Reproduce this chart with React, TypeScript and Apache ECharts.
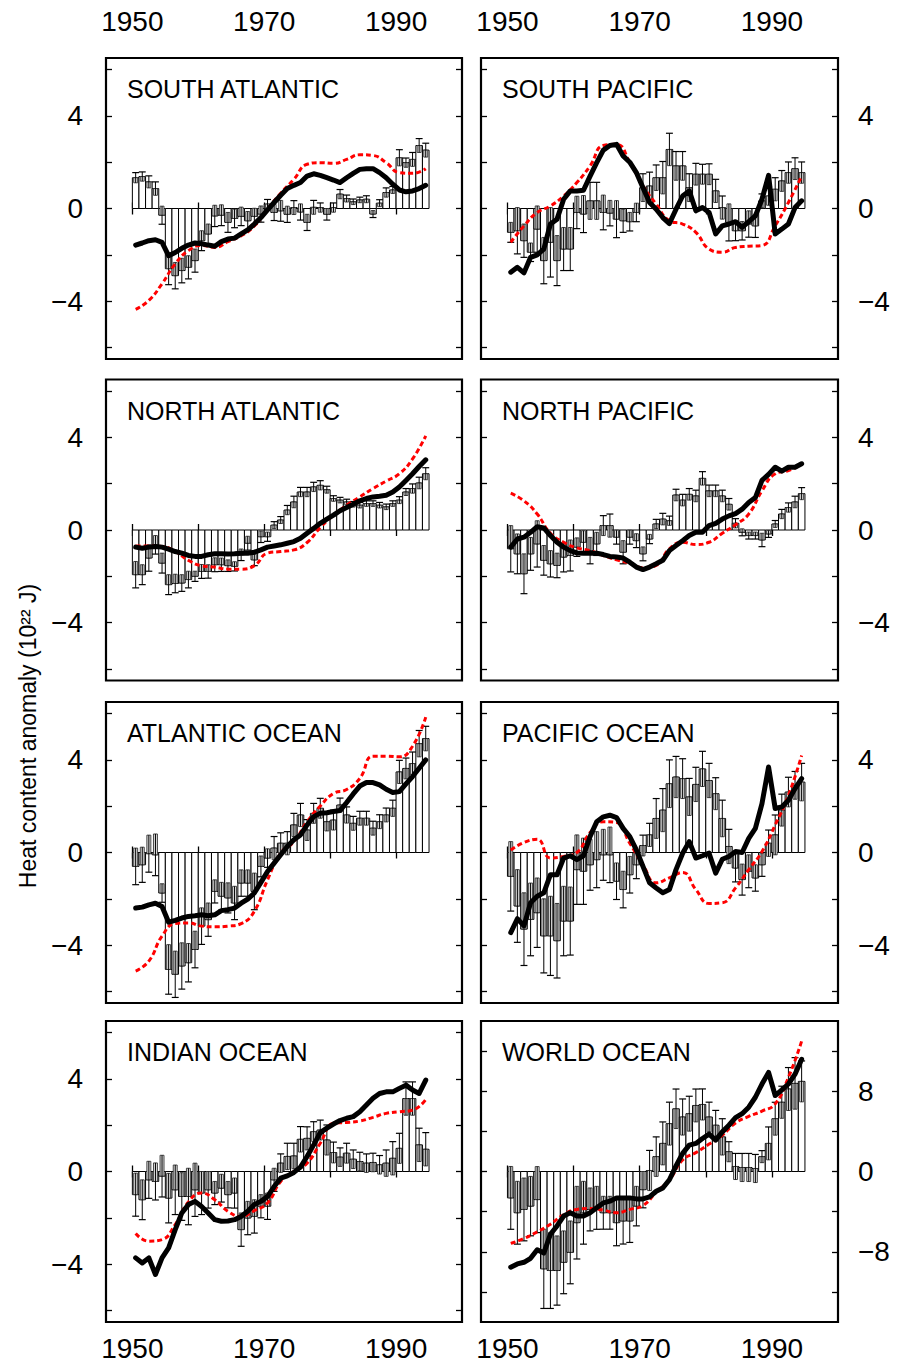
import React, { useEffect, useRef } from "react";
import * as echarts from "echarts";

// ---- data (10^22 J) ----
const YEARS = [1950,1951,1952,1953,1954,1955,1956,1957,1958,1959,1960,1961,1962,1963,1964,1965,1966,1967,1968,1969,1970,1971,1972,1973,1974,1975,1976,1977,1978,1979,1980,1981,1982,1983,1984,1985,1986,1987,1988,1989,1990,1991,1992,1993,1994];
const RED_YEARS = [1950,1952,1954,1956,1958,1960,1962,1964,1966,1968,1970,1972,1974,1976,1978,1980,1982,1984,1986,1988,1990,1992,1994];
const X_TICKS = [1950,1960,1970,1980,1990];
const X_LABELS = [1950,1970,1990];
const Y_TICKS = [-6,-4,-2,0,2,4,6];
const Y_LABELS = [-4,0,4];
const Y_TICKS_WORLD = [-12,-8,-4,0,4,8,12];
const Y_LABELS_WORLD = [-8,0,8];

const SA_BARS = [1.33,1.38,1.15,0.86,-0.29,-2.6,-2.9,-2.68,-2.54,-2.25,-1.39,-1.1,-0.32,-0.29,-0.6,-0.43,-0.34,-0.53,-0.34,-0.24,0.19,-0.17,-0.1,-0.25,0.04,-0.15,-0.6,0.05,0.04,-0.25,0.04,0.62,0.43,0.29,0.37,0.4,-0.24,0.23,0.69,0.8,2.19,1.98,2.12,2.72,2.52];
const SA_ERR = [0.22,0.2,0.26,0.29,0.39,0.69,0.57,0.53,0.5,0.5,0.43,0.43,0.46,0.45,0.43,0.4,0.4,0.4,0.35,0.35,0.2,0.35,0.45,0.35,0.3,0.35,0.35,0.3,0.2,0.25,0.2,0.2,0.15,0.12,0.12,0.15,0.15,0.15,0.2,0.15,0.35,0.2,0.3,0.3,0.3];
const SA_LINE = [-1.58,-1.49,-1.39,-1.35,-1.46,-2.04,-1.9,-1.72,-1.58,-1.49,-1.52,-1.58,-1.63,-1.43,-1.32,-1.28,-1.1,-0.92,-0.67,-0.39,-0.06,0.26,0.57,0.86,1.0,1.12,1.4,1.5,1.43,1.33,1.23,1.12,1.33,1.52,1.69,1.72,1.72,1.55,1.33,1.05,0.8,0.72,0.76,0.86,1.0];
const SA_RED = [-4.36,-3.97,-3.25,-2.39,-1.82,-1.6,-1.68,-1.43,-1.18,-0.75,-0.03,0.66,1.26,1.91,1.98,1.95,2.12,2.32,2.29,1.98,1.55,1.52,1.72];

const SP_BARS = [-1.03,-0.96,-1.39,-1.89,-0.89,-2.25,-1.46,-2.25,-1.75,-1.75,-0.17,-0.24,0.33,0.33,-0.17,-0.2,-0.46,-0.53,-0.57,-0.17,0.9,0.97,1.33,1.33,2.55,1.84,1.84,0.9,1.48,1.48,1.48,0.76,0.04,-0.6,-0.96,-0.96,-0.67,-0.75,0.33,0.54,0.83,1.19,1.55,1.72,1.55];
const SP_ERR = [0.43,1.0,0.72,0.4,1.0,1.0,1.5,1.08,0.93,0.93,0.7,0.8,0.8,0.8,0.75,0.55,0.8,0.5,0.4,0.4,0.6,0.6,0.55,0.7,0.7,0.62,0.62,0.6,0.47,0.43,0.45,0.5,0.5,0.8,0.43,0.4,0.57,0.5,0.3,0.4,0.5,0.45,0.46,0.47,0.46];
const SP_LINE = [-2.75,-2.54,-2.78,-2.11,-2.0,-1.75,-0.67,-0.46,0.4,0.76,0.76,0.79,1.4,1.98,2.52,2.72,2.77,2.27,2.0,1.55,0.9,0.26,-0.03,-0.39,-0.65,-0.03,0.54,0.76,-0.1,0.04,-0.17,-1.1,-0.75,-0.67,-0.57,-0.82,-0.57,-0.32,0.4,1.43,-1.1,-0.89,-0.67,0.04,0.33];
const SP_RED = [-1.46,-0.75,-0.17,0.11,0.54,1.12,1.84,2.72,2.77,2.0,0.97,0.19,-0.53,-0.67,-1.03,-1.75,-1.89,-1.68,-1.63,-1.6,-0.75,0.26,1.4];

const NA_BARS = [-1.93,-1.93,-1.21,-0.64,-1.43,-2.36,-2.31,-2.29,-2.14,-2.0,-1.79,-1.79,-1.5,-1.5,-1.54,-1.57,-1.07,-0.57,-1.29,-0.29,-0.29,0.21,0.43,0.86,1.21,1.64,1.64,1.86,1.93,1.74,1.36,1.29,1.21,1.11,1.07,1.14,1.14,1.07,1.0,1.14,1.29,1.64,1.79,2.03,2.43];
const NA_ERR = [0.57,0.43,0.57,0.4,0.43,0.43,0.4,0.36,0.36,0.22,0.3,0.29,0.3,0.29,0.25,0.2,0.25,0.3,0.25,0.25,0.2,0.15,0.15,0.2,0.25,0.2,0.2,0.2,0.2,0.15,0.12,0.12,0.12,0.12,0.12,0.12,0.12,0.12,0.12,0.12,0.15,0.15,0.2,0.25,0.26];
const NA_LINE = [-0.74,-0.79,-0.74,-0.71,-0.74,-0.83,-0.93,-1.0,-1.1,-1.14,-1.14,-1.07,-1.03,-1.03,-1.04,-1.03,-1.0,-1.0,-0.96,-0.86,-0.74,-0.69,-0.64,-0.57,-0.5,-0.36,-0.14,0.07,0.29,0.47,0.64,0.83,0.97,1.11,1.26,1.36,1.43,1.46,1.5,1.64,1.86,2.14,2.43,2.74,3.03];
const NA_RED = [-0.69,-0.69,-0.71,-0.93,-1.31,-1.54,-1.6,-1.69,-1.69,-1.54,-1.0,-0.93,-0.86,-0.54,0.11,0.64,1.07,1.43,1.79,2.11,2.43,3.07,4.07];

const NP_BARS = [-0.81,-1.03,-1.89,-1.03,-0.6,-1.31,-1.46,-1.53,-1.17,-1.1,-0.74,-0.53,-0.89,-0.6,0.19,0.19,-0.31,-0.96,-0.31,-0.46,-1.03,-0.39,0.26,0.47,0.4,1.51,1.29,1.54,1.47,2.23,1.69,1.69,1.47,1.11,0.29,-0.1,-0.24,-0.24,-0.43,-0.17,0.26,0.69,0.97,1.21,1.57];
const NP_ERR = [1.0,0.86,0.86,0.71,1.0,0.64,0.57,0.53,0.64,0.67,0.4,0.5,0.57,0.5,0.43,0.5,0.3,0.5,0.3,0.3,0.3,0.2,0.2,0.25,0.2,0.25,0.25,0.25,0.25,0.29,0.25,0.25,0.25,0.25,0.2,0.15,0.15,0.15,0.29,0.15,0.15,0.2,0.2,0.25,0.26];
const NP_LINE = [-0.74,-0.39,-0.31,-0.1,0.14,0.09,-0.24,-0.53,-0.74,-0.89,-0.99,-1.0,-1.0,-1.0,-1.06,-1.14,-1.17,-1.21,-1.39,-1.6,-1.71,-1.6,-1.46,-1.31,-0.89,-0.67,-0.46,-0.24,-0.1,-0.1,0.19,0.29,0.47,0.61,0.71,0.9,1.19,1.4,2.14,2.4,2.71,2.54,2.71,2.71,2.86];
const NP_RED = [1.59,1.26,0.69,-0.14,-0.53,-0.77,-0.89,-1.1,-1.29,-1.43,-1.63,-1.53,-0.81,-0.53,-0.63,-0.53,-0.14,0.23,0.69,1.69,2.43,2.57,2.83];

const AO_BARS = [-0.6,-0.53,-0.05,-0.1,-1.75,-5.05,-5.26,-4.9,-4.76,-4.19,-3.18,-2.9,-1.68,-1.89,-1.96,-2.18,-1.32,-1.32,-1.68,-0.6,-0.24,0.19,0.4,0.4,1.19,1.62,0.97,1.69,1.91,1.33,1.4,2.05,1.62,1.26,1.48,1.48,1.05,1.33,1.62,1.91,3.48,3.63,3.84,4.7,4.92];
const AO_ERR = [0.79,0.76,0.8,0.9,0.4,1.07,1.0,1.0,0.83,0.79,0.79,0.72,0.5,0.6,0.65,0.72,0.57,0.57,0.79,0.45,0.4,0.5,0.45,0.5,0.5,0.5,0.45,0.43,0.43,0.4,0.43,0.3,0.35,0.3,0.3,0.3,0.3,0.3,0.3,0.35,0.5,0.45,0.5,0.57,0.53];
const AO_LINE = [-2.4,-2.36,-2.26,-2.19,-2.33,-3.01,-2.93,-2.83,-2.76,-2.73,-2.69,-2.73,-2.69,-2.51,-2.47,-2.4,-2.19,-2.01,-1.75,-1.29,-0.82,-0.46,-0.1,0.26,0.55,0.76,1.19,1.55,1.7,1.72,1.77,1.81,2.16,2.53,2.87,3.02,3.02,2.92,2.73,2.59,2.63,2.96,3.28,3.64,4.0];
const AO_RED = [-5.12,-4.69,-3.61,-3.07,-3.04,-3.18,-3.21,-3.18,-3.07,-2.54,-1.18,-0.03,0.47,1.33,2.01,2.55,2.72,3.2,4.16,4.16,4.13,4.59,5.85];

const PO_BARS = [-1.03,-2.31,-3.31,-2.89,-2.6,-3.6,-3.6,-3.81,-2.96,-2.96,-0.74,-0.81,-0.53,-0.31,-0.1,-0.1,-1.24,-1.6,-0.96,-0.53,0.3,0.76,1.47,1.83,2.97,3.26,3.19,2.4,2.94,3.61,3.11,2.54,1.47,0.26,-0.67,-1.17,-0.81,-1.1,-0.53,0.4,0.76,1.83,2.61,2.9,3.04];
const PO_ERR = [1.5,1.57,1.57,1.57,1.5,1.6,1.71,1.61,1.5,1.47,1.5,1.43,1.1,1.21,1.1,1.2,0.79,0.79,0.79,0.6,0.45,0.5,0.86,0.93,1.03,0.89,0.86,0.8,0.74,0.76,0.74,0.69,0.79,0.74,0.6,0.67,0.71,0.57,0.5,0.57,0.86,0.69,0.64,0.6,0.81];
const PO_LINE = [-3.46,-2.86,-3.17,-2.17,-1.89,-1.74,-0.96,-0.96,-0.24,-0.14,-0.31,-0.14,0.69,1.33,1.54,1.61,1.51,1.04,0.69,0.11,-0.6,-1.31,-1.53,-1.74,-1.6,-0.74,-0.03,0.47,-0.24,-0.14,-0.03,-0.89,-0.29,-0.17,0.04,0.0,0.61,1.04,2.11,3.69,1.9,1.97,2.26,2.76,3.19];
const PO_RED = [0.11,0.43,0.57,-0.24,-0.17,0.0,0.86,1.33,1.3,0.4,-0.53,-1.31,-1.1,-0.86,-1.6,-2.2,-2.17,-1.53,-0.74,0.04,1.19,2.47,4.19];

const IO_BARS = [-1.0,-1.22,-0.36,-0.43,-0.2,-1.15,-0.79,-1.08,-1.08,-0.79,-0.93,-0.79,-0.93,-0.72,-1.0,-0.93,-2.51,-2.01,-1.94,-1.5,-1.5,-0.36,0.36,0.65,0.67,1.39,1.43,1.72,1.79,1.36,0.82,0.62,0.79,0.53,0.43,0.36,0.39,0.29,0.36,0.57,1.0,3.15,3.15,1.15,0.96];
const IO_ERR = [0.93,0.86,0.8,0.8,0.9,1.07,1.07,1.03,1.22,1.15,0.93,0.79,0.5,0.6,0.57,0.65,0.72,0.72,0.72,0.5,0.57,0.5,0.4,0.57,0.55,0.55,0.5,0.43,0.43,0.65,0.45,0.4,0.43,0.4,0.4,0.4,0.4,0.4,0.57,0.72,0.65,0.72,0.72,0.72,0.72];
const IO_LINE = [-3.73,-3.95,-3.73,-4.45,-3.73,-3.3,-2.51,-1.79,-1.43,-1.29,-1.51,-1.79,-2.08,-2.15,-2.14,-2.08,-1.94,-1.72,-1.43,-1.29,-1.08,-0.65,-0.29,-0.19,-0.04,0.19,0.65,1.15,1.68,1.87,2.05,2.2,2.3,2.37,2.58,2.87,3.16,3.37,3.44,3.44,3.59,3.73,3.52,3.37,3.95];
const IO_RED = [-2.68,-3.01,-2.94,-2.29,-1.32,-0.93,-1.22,-1.72,-1.94,-1.69,-1.36,-0.43,0.0,0.36,1.22,2.08,2.12,2.18,2.34,2.51,2.58,2.65,3.11];

const WO_BARS = [-2.63,-4.11,-3.78,-3.45,-2.8,-9.7,-9.87,-9.87,-9.05,-8.06,-5.1,-4.11,-3.78,-3.62,-4.11,-4.11,-5.1,-4.93,-4.93,-3.45,-1.81,0.1,1.48,2.8,4.77,6.25,5.43,5.76,6.58,6.68,5.43,4.61,3.45,1.97,0.5,0.4,0.4,0.3,1.48,2.8,5.26,6.9,8.22,8.78,8.98];
const WO_ERR = [3.13,3.13,3.13,2.96,3.29,3.95,3.78,3.45,3.13,3.13,3.62,3.13,2.14,2.14,1.64,1.64,2.3,2.3,2.14,1.97,1.81,2.0,1.97,2.14,2.14,1.97,1.8,1.74,1.64,1.55,1.48,1.48,1.81,1.0,1.3,1.4,1.4,1.4,0.6,1.64,1.64,1.6,2.14,2.57,2.04];
const WO_LINE = [-9.54,-9.21,-9.05,-8.65,-7.8,-8.13,-6.25,-5.43,-4.44,-4.11,-4.44,-4.44,-4.11,-3.62,-3.13,-2.96,-2.63,-2.63,-2.63,-2.73,-2.73,-2.53,-1.97,-1.64,-0.82,0.56,1.81,2.63,2.8,3.29,3.72,3.13,3.95,4.61,5.36,5.76,6.41,7.4,8.72,9.87,7.57,8.13,8.72,9.7,11.18];
const WO_RED = [-7.17,-6.68,-6.02,-5.26,-4.31,-3.78,-3.68,-3.85,-4.11,-3.78,-3.39,-2.07,-0.82,1.15,1.88,2.73,3.62,4.84,5.49,6.02,6.74,9.38,12.99];

const PANELS = [
  { title: "SOUTH ATLANTIC", bars: SA_BARS, err: SA_ERR, line: SA_LINE, red: SA_RED, world: false },
  { title: "SOUTH PACIFIC", bars: SP_BARS, err: SP_ERR, line: SP_LINE, red: SP_RED, world: false },
  { title: "NORTH ATLANTIC", bars: NA_BARS, err: NA_ERR, line: NA_LINE, red: NA_RED, world: false },
  { title: "NORTH PACIFIC", bars: NP_BARS, err: NP_ERR, line: NP_LINE, red: NP_RED, world: false },
  { title: "ATLANTIC OCEAN", bars: AO_BARS, err: AO_ERR, line: AO_LINE, red: AO_RED, world: false },
  { title: "PACIFIC OCEAN", bars: PO_BARS, err: PO_ERR, line: PO_LINE, red: PO_RED, world: false },
  { title: "INDIAN OCEAN", bars: IO_BARS, err: IO_ERR, line: IO_LINE, red: IO_RED, world: false },
  { title: "WORLD OCEAN", bars: WO_BARS, err: WO_ERR, line: WO_LINE, red: WO_RED, world: true },
];

// ---- layout ----
const COL_LEFT = [106, 481];
const COL_WIDTH = [356, 357];
const ROW_TOP = [58, 379.5, 702, 1021];
const ROW_HEIGHT = 301;
const FONT = '"Liberation Sans", Arial, Helvetica, sans-serif';
const LABEL_SIZE = 28;

const fmtY = (v: number) => (v < 0 ? "\u2212" + Math.abs(v) : String(v));

function renderBar(params: any, api: any) {
  const x = api.value(0);
  const v = api.value(1);
  const e = api.value(2);
  const p0 = api.coord([x - 0.5, 0]);
  const p1 = api.coord([x + 0.5, v]);
  const w = p1[0] - p0[0];
  const s = v >= 0 ? 1 : -1;
  const pv = api.coord([x, v]);
  const pin = api.coord([x, v - s * e]);
  const pout = api.coord([x, v + s * e]);
  const cx = pv[0];
  const bw = w * 0.6;
  const cw = w * 1.05;
  return {
    type: "group",
    children: [
      {
        type: "rect",
        shape: { x: p0[0], y: Math.min(p0[1], p1[1]), width: w, height: Math.abs(p1[1] - p0[1]) },
        style: { fill: "#ffffff", stroke: "#000", lineWidth: 1 },
      },
      {
        type: "rect",
        shape: { x: cx - bw / 2, y: Math.min(pv[1], pin[1]), width: bw, height: Math.abs(pv[1] - pin[1]) },
        style: { fill: "#dedede", stroke: "#333", lineWidth: 0.9 },
      },
      {
        type: "line",
        shape: { x1: cx, y1: pin[1], x2: cx, y2: pout[1] },
        style: { stroke: "#000", lineWidth: 1 },
      },
      {
        type: "line",
        shape: { x1: cx - cw / 2, y1: pout[1], x2: cx + cw / 2, y2: pout[1] },
        style: { stroke: "#000", lineWidth: 1.2 },
      },
    ],
  };
}

function buildOption() {
  const grid: any[] = [];
  const xAxis: any[] = [];
  const yAxis: any[] = [];
  const series: any[] = [];
  const graphic: any[] = [];

  PANELS.forEach((p, i) => {
    const row = Math.floor(i / 2);
    const col = i % 2;
    const left = COL_LEFT[col];
    const top = ROW_TOP[row];
    grid.push({
      left,
      top,
      width: COL_WIDTH[col],
      height: ROW_HEIGHT,
      show: true,
      borderColor: "#000",
      borderWidth: 2.2,
      backgroundColor: "transparent",
      containLabel: false,
    });
    const range = p.world ? 15 : 6.5;
    const yt = p.world ? Y_TICKS_WORLD : Y_TICKS;
    const yl = p.world ? Y_LABELS_WORLD : Y_LABELS;

    const xBase = {
      gridIndex: i,
      type: "value",
      min: 1946,
      max: 2000,
      splitLine: { show: false },
      axisLine: { show: false },
      axisTick: { show: true, inside: true, length: 6, customValues: X_TICKS, lineStyle: { color: "#000", width: 1.3 } },
    };
    xAxis.push({
      ...xBase,
      position: "bottom",
      axisLabel: {
        show: row === 3,
        customValues: X_LABELS,
        fontSize: LABEL_SIZE,
        fontFamily: FONT,
        color: "#000",
        margin: 12,
        formatter: (v: number) => String(v),
      },
    });
    xAxis.push({
      ...xBase,
      position: "top",
      axisLabel: {
        show: row === 0,
        customValues: X_LABELS,
        fontSize: LABEL_SIZE,
        fontFamily: FONT,
        color: "#000",
        margin: 23,
        formatter: (v: number) => String(v),
      },
    });
    const yBase = {
      gridIndex: i,
      type: "value",
      min: -range,
      max: range,
      splitLine: { show: false },
      axisLine: { show: false },
      axisTick: { show: true, inside: true, length: 6, customValues: yt, lineStyle: { color: "#000", width: 1.3 } },
    };
    yAxis.push({
      ...yBase,
      position: "left",
      axisLabel: {
        show: col === 0,
        customValues: yl,
        fontSize: LABEL_SIZE,
        fontFamily: FONT,
        color: "#000",
        margin: 23,
        formatter: fmtY,
      },
    });
    yAxis.push({
      ...yBase,
      position: "right",
      axisLabel: {
        show: col === 1,
        customValues: yl,
        fontSize: LABEL_SIZE,
        fontFamily: FONT,
        color: "#000",
        margin: 20,
        formatter: fmtY,
      },
    });

    series.push({
      type: "custom",
      xAxisIndex: 2 * i,
      yAxisIndex: 2 * i,
      renderItem: renderBar,
      data: YEARS.map((y, k) => [y + 0.5, p.bars[k], p.err[k]]),
      encode: { x: 0, y: 1 },
      silent: true,
      z: 2,
    });
    series.push({
      type: "line",
      xAxisIndex: 2 * i,
      yAxisIndex: 2 * i,
      data: RED_YEARS.map((y, k) => [y + 0.5, p.red[k]]),
      showSymbol: false,
      symbol: "none",
      smooth: 0.5,
      lineStyle: { color: "#ff0000", width: 3, type: [5, 3] },
      silent: true,
      z: 3,
    });
    series.push({
      type: "line",
      xAxisIndex: 2 * i,
      yAxisIndex: 2 * i,
      data: YEARS.map((y, k) => [y + 0.5, p.line[k]]),
      showSymbol: false,
      symbol: "none",
      lineStyle: { color: "#000", width: 5, cap: "round", join: "round" },
      silent: true,
      z: 4,
    });

    graphic.push({
      type: "text",
      x: left + 21,
      y: top + 31,
      z: 10,
      style: {
        text: p.title,
        fontSize: 25,
        fontFamily: FONT,
        fill: "#000",
        align: "left",
        verticalAlign: "middle",
      },
    });
  });

  graphic.push({
    type: "text",
    x: 28,
    y: 736,
    rotation: Math.PI / 2,
    z: 10,
    style: {
      text: "Heat content anomaly (10\u00b2\u00b2 J)",
      fontSize: 23,
      fontFamily: FONT,
      fill: "#000",
      align: "center",
      verticalAlign: "middle",
    },
  });

  return {
    animation: false,
    backgroundColor: "#ffffff",
    grid,
    xAxis,
    yAxis,
    series,
    graphic,
  };
}

export default function App() {
  const ref = useRef<HTMLDivElement>(null);
  useEffect(() => {
    if (!ref.current) return;
    const chart = echarts.init(ref.current, null, { renderer: "svg" });
    chart.setOption(buildOption() as any);
    return () => chart.dispose();
  }, []);
  return (
    <div
      ref={ref}
      style={{ position: "absolute", left: 0, top: 0, width: 898, height: 1368, background: "#fff" }}
    />
  );
}
